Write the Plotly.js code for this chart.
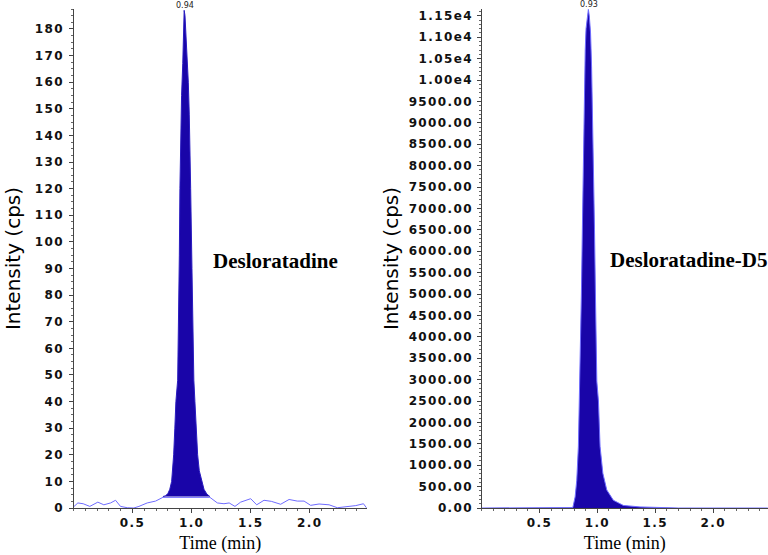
<!DOCTYPE html>
<html>
<head>
<meta charset="utf-8">
<script src="https://cdn.plot.ly/plotly-3.0.1.min.js"></script>
<style>
  html, body { margin: 0; padding: 0; background: #fff; }
  #chart { width: 768px; height: 555px; }
  .xtick text, .ytick text, .x2tick text, .y2tick text { letter-spacing: 1.4px; }
</style>
</head>
<body>
<div id="chart"></div>
<script>
// Chromatograms: Desloratadine (left) and Desloratadine-D5 internal standard (right)

// left panel: baseline noise (min, cps)
var noiseTime = [0.0, 0.037, 0.082, 0.138, 0.206, 0.257, 0.314, 0.356, 0.398, 0.455, 0.511,
  0.554, 0.624, 0.695, 0.757, 1.155, 1.218, 1.274, 1.318, 1.367, 1.415, 1.500, 1.551,
  1.613, 1.675, 1.754, 1.825, 1.895, 1.952, 2.008, 2.079, 2.164, 2.234, 2.319, 2.390,
  2.455, 2.48];
var noiseCps = [0.4, 1.9, 1.6, 0.6, 2.2, 1.2, 1.9, 2.9, 0.6, 0.1, 0.0,
  0.6, 1.9, 2.6, 4.0, 4.0, 1.9, 1.6, 1.9, 0.6, 2.2, 3.5, 1.2,
  2.9, 2.5, 1.4, 3.2, 2.6, 2.6, 1.0, 1.5, 1.2, 0.1, 0.6, 0.9,
  1.6, 0.1];

// left panel: integrated peak outline
var peakTime = [0.757, 0.780, 0.800, 0.815, 0.831, 0.840, 0.848, 0.858, 0.867, 0.882,
  0.890, 0.896, 0.901, 0.906, 0.915, 0.925, 0.932, 0.937, 0.944, 0.953, 0.962, 0.972,
  0.980, 0.986, 0.992, 1.003, 1.012, 1.019, 1.028, 1.040, 1.051, 1.065, 1.085, 1.105,
  1.130, 1.155];
var peakCps = [4.3, 4.6, 5.5, 7, 10, 15, 20, 30, 40, 48,
  70, 95, 120, 140, 155, 167, 177, 187, 185, 178, 170, 160,
  148, 138, 120, 90, 65, 48, 40, 30, 20, 14, 10, 7,
  5.2, 4.3];

// right panel: internal standard trace
var isTime = [0, 0.78, 0.788, 0.808, 0.822, 0.836, 0.845, 0.851, 0.862, 0.872, 0.879,
  0.884, 0.887, 0.895, 0.902, 0.914, 0.922, 0.930, 0.941, 0.950, 0.955, 0.960, 0.966,
  0.975, 0.983, 0.990, 0.995, 1.009, 1.023, 1.047, 1.081, 1.138, 1.224, 1.368, 1.566,
  1.70, 2.47];
var isCps = [0, 0, 10, 260, 650, 1440, 2500, 2960, 5000, 6800, 7900,
  8800, 9900, 10700, 11200, 11500, 11650, 11500, 11100, 10300, 9300, 8500, 7900,
  6500, 5000, 3800, 2960, 2500, 1440, 810, 420, 180, 60, 25, 8,
  0, 0];

var rtLeft = 0.94, rtRight = 0.93;
var isTickVals = [0, 500, 1000, 1500, 2000, 2500, 3000, 3500, 4000, 4500, 5000, 5500,
  6000, 6500, 7000, 7500, 8000, 8500, 9000, 9500, 10000, 10500, 11000, 11500];
var isTickText = ['0.00', '500.00', '1000.00', '1500.00', '2000.00', '2500.00', '3000.00',
  '3500.00', '4000.00', '4500.00', '5000.00', '5500.00', '6000.00', '6500.00', '7000.00',
  '7500.00', '8000.00', '8500.00', '9000.00', '9500.00', '1.00e4', '1.05e4', '1.10e4', '1.15e4'];
var xTickVals = [0.5, 1.0, 1.5, 2.0];
var xTickText = ['0.5', '1.0', '1.5', '2.0'];

var peakFill = '#1905a8';
var lineBlue = '#6f6cff';

var data = [
  { x: noiseTime, y: noiseCps, type: 'scatter', mode: 'lines',
    line: { color: lineBlue, width: 1 }, xaxis: 'x', yaxis: 'y' },
  { x: peakTime, y: peakCps, type: 'scatter', mode: 'lines', fill: 'toself',
    fillcolor: peakFill, line: { color: '#2a1cc0', width: 1 }, xaxis: 'x', yaxis: 'y' },
  { x: isTime, y: isCps, type: 'scatter', mode: 'lines', fill: 'tozeroy',
    fillcolor: peakFill, line: { color: lineBlue, width: 1 }, xaxis: 'x2', yaxis: 'y2' }
];

var tickFont = { family: 'DejaVu Sans', size: 12, weight: 'bold', color: '#111' };
var yTitleFont = { family: 'DejaVu Sans', size: 20, color: '#000' };
var xTitleFont = { family: 'Liberation Serif', size: 18, color: '#000' };
var rtFont = { family: 'DejaVu Sans', size: 8, color: '#222' };

function xAxis(domain, range) {
  return {
    domain: domain, range: range, showgrid: false, zeroline: false,
    showline: true, linecolor: '#444', linewidth: 1,
    ticks: 'outside', ticklen: 4, tickcolor: '#444',
    tickvals: xTickVals, ticktext: xTickText, tickfont: tickFont,
    minor: { dtick: 0.1, ticks: 'outside', ticklen: 2, tickcolor: '#666' },
    title: { text: 'Time (min)', font: xTitleFont, standoff: 6 },
    automargin: false
  };
}

var layout = {
  width: 768, height: 555,
  margin: { l: 0, r: 0, t: 9, b: 47 },
  paper_bgcolor: '#fff', plot_bgcolor: '#fff',
  showlegend: false,
  xaxis: xAxis([73.5 / 768, 367 / 768], [0, 2.485]),
  xaxis2: Object.assign(xAxis([481.5 / 768, 1], [0, 2.472]), { anchor: 'y2' }),
  yaxis: {
    domain: [0, 1], range: [0, 187.5], anchor: 'x',
    showgrid: false, zeroline: false, showline: true, linecolor: '#444', linewidth: 1,
    ticks: 'outside', ticklen: 4, tickcolor: '#444', dtick: 10, tick0: 0,
    tickfont: tickFont, ticklabelstandoff: 2,
    minor: { dtick: 2.5, ticks: 'outside', ticklen: 2, tickcolor: '#666' },
    title: { text: 'Intensity (cps)', font: yTitleFont, standoff: 8 },
    automargin: false
  },
  yaxis2: {
    domain: [0, 1], range: [0, 11660], anchor: 'x2',
    showgrid: false, zeroline: false, showline: true, linecolor: '#444', linewidth: 1,
    ticks: 'outside', ticklen: 4, tickcolor: '#444',
    tickvals: isTickVals, ticktext: isTickText,
    tickfont: tickFont, ticklabelstandoff: 1,
    minor: { dtick: 100, ticks: 'outside', ticklen: 2, tickcolor: '#666' },
    title: { text: 'Intensity (cps)', font: yTitleFont, standoff: 4 },
    automargin: false
  },
  annotations: [
    { x: rtLeft, y: 187, xref: 'x', yref: 'y', text: rtLeft.toFixed(2), showarrow: false,
      yanchor: 'bottom', yshift: -1, font: rtFont, borderpad: 0 },
    { x: rtRight, y: 11650, xref: 'x2', yref: 'y2', text: rtRight.toFixed(2), showarrow: false,
      yanchor: 'bottom', yshift: -1, font: rtFont, borderpad: 0 },
    { x: 1.71, y: 93, xref: 'x', yref: 'y', text: '<b>Desloratadine</b>', showarrow: false,
      font: { family: 'Liberation Serif', size: 21, color: '#000' } },
    { x: 1.79, y: 5800, xref: 'x2', yref: 'y2', text: '<b>Desloratadine-D5</b>', showarrow: false,
      font: { family: 'Liberation Serif', size: 21, color: '#000' } }
  ]
};

Plotly.newPlot('chart', data, layout, { displayModeBar: false, staticPlot: true });
</script>
</body>
</html>
